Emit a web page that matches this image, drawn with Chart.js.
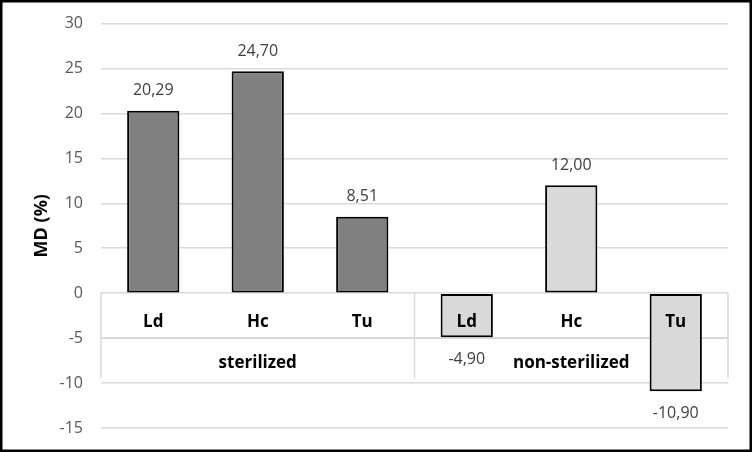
<!DOCTYPE html>
<html><head><meta charset="utf-8">
<script src="https://cdn.jsdelivr.net/npm/chart.js@4"></script>
<style>html,body{margin:0;padding:0;background:#fff}canvas{display:block}</style>
</head><body><canvas id="c" width="752" height="452"></canvas>
<script>
const groups = ['sterilized', 'non-sterilized'];
const categories = ['Ld', 'Hc', 'Tu', 'Ld', 'Hc', 'Tu'];
const groupOf = [0, 0, 0, 1, 1, 1];
const values = [20.29, 24.70, 8.51, -4.90, 12.00, -10.90];
const valueLabels = ['20,29', '24,70', '8,51', '-4,90', '12,00', '-10,90'];
const groupColors = ['#808080', '#d9d9d9'];
const yMin = -15, yMax = 30, yStep = 5;
const yTitle = 'MD (%)';
const FONT = "'Open Sans', 'Noto Sans', sans-serif";

const tablePlugin = {
  id: 'table',
  beforeDatasetsDraw(chart) {
    const {ctx, chartArea: a, scales: {x, y}} = chart;
    const y0 = y.getPixelForValue(0);
    ctx.save();
    ctx.strokeStyle = '#d9d9d9';
    ctx.lineWidth = 1.5;
    ctx.beginPath();
    ctx.moveTo(a.left, y0 + 45); ctx.lineTo(a.right, y0 + 45);
    const xs = [a.left, a.right];
    for (let i = 1; i < categories.length; i++) {
      if (groupOf[i] !== groupOf[i - 1]) xs.push((x.getPixelForValue(i - 1) + x.getPixelForValue(i)) / 2);
    }
    xs.forEach(px => { ctx.moveTo(px, y0); ctx.lineTo(px, y0 + 85); });
    ctx.stroke();
    ctx.restore();
  },
  afterDatasetsDraw(chart) {
    const {ctx, chartArea: a, scales: {x, y}} = chart;
    const y0 = y.getPixelForValue(0);
    const meta = chart.getDatasetMeta(0);
    ctx.save();
    ctx.textAlign = 'center';
    ctx.textBaseline = 'middle';
    ctx.fillStyle = '#404040';
    ctx.font = '16px ' + FONT;
    meta.data.forEach((bar, i) => {
      const v = values[i];
      const ty = v >= 0 ? bar.y - 20 : bar.y + 22;
      ctx.fillText(valueLabels[i], bar.x, ty);
    });
    ctx.fillStyle = '#000';
    ctx.font = 'bold 17px ' + FONT;
    categories.forEach((c, i) => ctx.fillText(c, x.getPixelForValue(i), y0 + 29));
    groups.forEach((g, gi) => {
      const idx = groupOf.map((v, i) => v === gi ? i : -1).filter(i => i >= 0);
      const w = (x.getPixelForValue(1) - x.getPixelForValue(0));
      const left = x.getPixelForValue(idx[0]) - w / 2;
      const right = x.getPixelForValue(idx[idx.length - 1]) + w / 2;
      ctx.fillText(g, (left + right) / 2, y0 + 70);
    });
    ctx.font = 'bold 18px ' + FONT;
    ctx.translate(42, (a.top + a.bottom) / 2);
    ctx.rotate(-Math.PI / 2);
    ctx.fillText(yTitle, 0, 0);
    ctx.restore();
  },
  afterDraw(chart) {
    const {ctx} = chart;
    ctx.save();
    ctx.strokeStyle = '#000';
    ctx.lineWidth = 2.5;
    ctx.strokeRect(1.25, 1.25, chart.width - 2.5, chart.height - 2.5);
    ctx.restore();
  }
};

new Chart(document.getElementById('c'), {
  type: 'bar',
  data: {
    labels: categories,
    datasets: [{
      data: values,
      backgroundColor: groupOf.map(g => groupColors[g]),
      borderColor: '#000',
      borderWidth: 2,
      borderSkipped: false,
      barPercentage: 1,
      categoryPercentage: 0.5
    }]
  },
  options: {
    responsive: false,
    animation: false,
    devicePixelRatio: 1,
    layout: {padding: {top: 23.5, bottom: 24, left: 0, right: 24}},
    plugins: {legend: {display: false}, tooltip: {enabled: false}},
    scales: {
      x: {display: false},
      y: {
        min: yMin, max: yMax,
        afterFit(s) { s.width = 101; s.paddingTop = 0; s.paddingBottom = 0; },
        ticks: {stepSize: yStep, padding: 18, color: '#595959', font: {family: FONT, size: 16}},
        grid: {color: '#d9d9d9', lineWidth: 1.5, drawTicks: false},
        border: {display: false}
      }
    }
  },
  plugins: [tablePlugin]
});
</script>
</body></html>
